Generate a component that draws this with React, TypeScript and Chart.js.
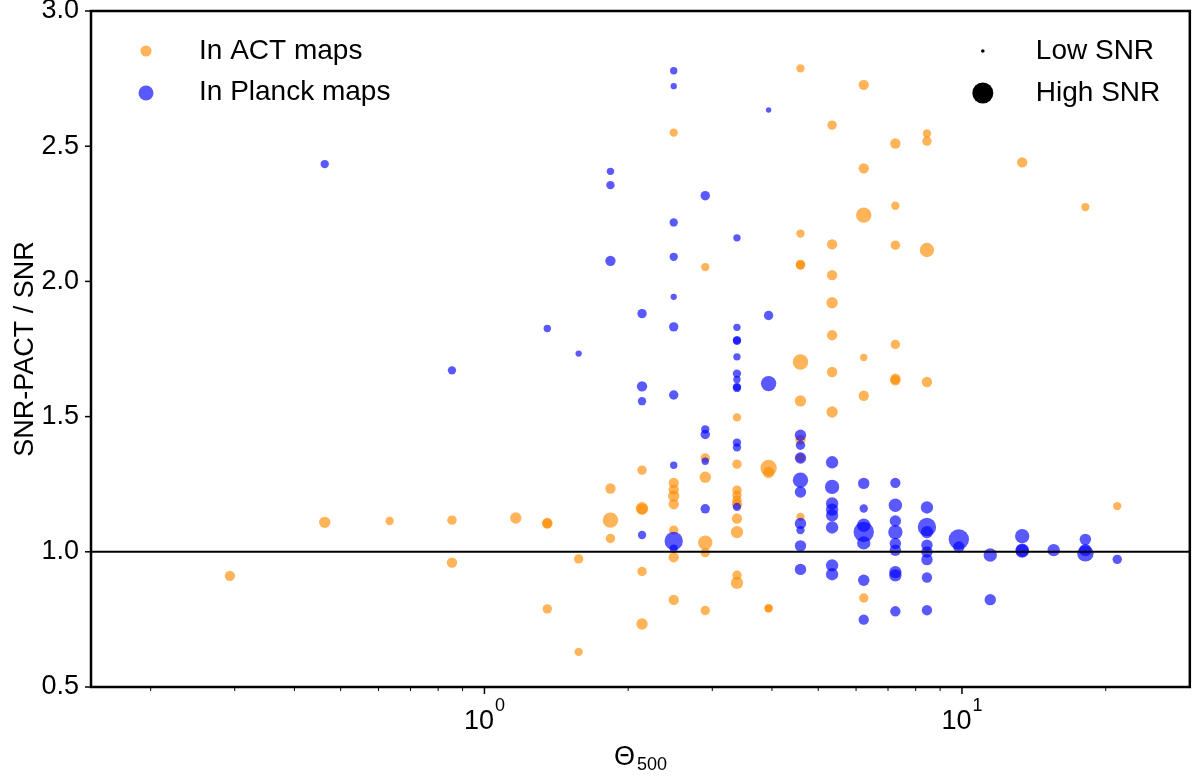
import { useEffect, useRef } from 'react';
import { Chart, registerables } from 'chart.js';

Chart.register(...registerables);

const FONT = "'Liberation Sans', Arial, Helvetica, sans-serif";

// ---- ACT clusters ----
const actTheta = [
  0.293, 0.463, 0.633, 0.855, 0.855, 1.163, 1.354, 1.354, 1.354, 1.575, 1.575,
  1.836, 1.836, 1.836, 2.138, 2.138, 2.138, 2.138, 2.138,
  2.491, 2.491, 2.491, 2.491, 2.491, 2.491, 2.491, 2.491,
  2.9, 2.9, 2.9, 2.9, 2.9, 2.9,
  3.379, 3.379, 3.379, 3.379, 3.379, 3.379, 3.379, 3.379, 3.379, 3.379,
  3.936, 3.936, 3.936, 3.936,
  4.59, 4.59, 4.59, 4.59, 4.59, 4.59, 4.59, 4.59, 4.59,
  5.346, 5.346, 5.346, 5.346, 5.346, 5.346, 5.346,
  6.227, 6.227, 6.227, 6.227, 6.227, 6.227,
  7.253, 7.253, 7.253, 7.253, 7.253, 7.253,
  8.446, 8.446, 8.446, 8.446,
  13.37, 18.13, 21.14,
];
const actRatio = [
  0.911, 1.109, 1.114, 1.117, 0.96, 1.125, 1.107, 1.104, 0.789, 0.974, 0.63,
  1.234, 1.117, 1.049, 1.302, 1.161, 1.158, 0.927, 0.733,
  2.55, 1.255, 1.23, 1.206, 1.176, 1.08, 0.98, 0.822,
  2.053, 1.347, 1.276, 1.034, 0.997, 0.783,
  1.497, 1.324, 1.228, 1.209, 1.191, 1.176, 1.123, 1.073, 0.913, 0.885,
  1.31, 1.293, 0.792, 0.79,
  2.788, 2.177, 2.063, 2.06, 1.702, 1.558, 1.415, 1.347, 1.129,
  2.578, 2.137, 2.023, 1.921, 1.801, 1.665, 1.517,
  2.727, 2.418, 2.245, 1.719, 1.577, 0.829,
  2.51, 2.28, 2.134, 1.767, 1.64, 1.634,
  2.547, 2.519, 2.116, 1.628,
  2.44, 2.275, 1.169,
];
const actSNR = [
  20, 25, 12, 16, 20, 25, 20, 20, 16, 16, 12,
  20, 49, 16, 16, 30, 25, 16, 25,
  12, 20, 20, 25, 20, 16, 20, 20,
  12, 16, 25, 42, 16, 16,
  12, 16, 16, 16, 16, 20, 20, 30, 16, 30,
  56, 25, 12, 12,
  12, 12, 16, 16, 49, 25, 20, 16, 12,
  16, 20, 20, 25, 20, 20, 25,
  20, 20, 49, 9, 20, 16,
  20, 12, 16, 16, 20, 20,
  12, 16, 42, 20,
  20, 12, 12,
];

// ---- Planck clusters ----
const planckTheta = [
  0.463, 0.855, 1.354, 1.575,
  1.836, 1.836, 1.836,
  2.138, 2.138, 2.138, 2.138,
  2.491, 2.491, 2.491, 2.491, 2.491, 2.491, 2.491, 2.491, 2.491, 2.491,
  2.9, 2.9, 2.9, 2.9, 2.9,
  3.379, 3.379, 3.379, 3.379, 3.379, 3.379, 3.379, 3.379, 3.379, 3.379, 3.379, 3.379,
  3.936, 3.936, 3.936,
  4.59, 4.59, 4.59, 4.59, 4.59, 4.59, 4.59, 4.59, 4.59,
  5.346, 5.346, 5.346, 5.346, 5.346, 5.346, 5.346, 5.346,
  6.227, 6.227, 6.227, 6.227, 6.227, 6.227, 6.227,
  7.253, 7.253, 7.253, 7.253, 7.253, 7.253, 7.253, 7.253, 7.253,
  8.446, 8.446, 8.446, 8.446, 8.446, 8.446, 8.446, 8.446,
  9.85, 9.85, 11.46, 11.46, 13.37, 13.37, 13.37, 15.56, 18.13, 18.13, 18.13, 21.14,
];
const planckRatio = [
  2.434, 1.671, 1.826, 1.733,
  2.407, 2.356, 2.076,
  1.881, 1.612, 1.557, 1.062,
  2.779, 2.722, 2.218, 2.091, 1.943, 1.832, 1.58, 1.32, 1.04, 1.012,
  2.317, 1.453, 1.434, 1.335, 1.159,
  2.161, 1.83, 1.783, 1.78, 1.721, 1.659, 1.637, 1.61, 1.606, 1.404, 1.386, 1.166,
  2.634, 1.874, 1.622,
  1.431, 1.394, 1.347, 1.265, 1.221, 1.105, 1.08, 1.022, 0.935,
  1.331, 1.24, 1.179, 1.156, 1.135, 1.09, 0.95, 0.917,
  1.253, 1.16, 1.098, 1.073, 1.033, 0.895, 0.749,
  1.255, 1.172, 1.114, 1.073, 1.031, 1.006, 0.925, 0.913, 0.78,
  1.164, 1.092, 1.073, 1.024, 0.999, 0.971, 0.905, 0.784,
  1.046, 1.018, 0.988, 0.823, 1.058, 1.006, 1.003, 1.006, 1.046, 1.006, 0.994, 0.972,
];
const planckSNR = [
  12, 12, 9, 6,
  9, 12, 20,
  16, 20, 12, 12,
  9, 6, 12, 12, 6, 16, 16, 9, 72, 12,
  16, 12, 16, 9, 16,
  9, 9, 12, 12, 9, 12, 9, 12, 12, 12, 12, 12,
  4, 16, 49,
  25, 16, 25, 49, 25, 25, 12, 25, 25,
  30, 42, 30, 30, 30, 30, 30, 30,
  25, 12, 36, 90, 36, 25, 20,
  20, 36, 25, 42, 25, 25, 30, 30, 20,
  30, 72, 30, 25, 25, 25, 20, 20,
  90, 25, 36, 25, 42, 36, 36, 30, 25, 30, 56, 16,
];

// reference line SNR-PACT / SNR = 1
const refLineTheta = [0.15, 30];
const refLineRatio = [1, 1];

const yTickValues = [0.5, 1.0, 1.5, 2.0, 2.5, 3.0];
const xMinorTicks = [0.2, 0.3, 0.4, 0.5, 0.6, 0.7, 0.8, 0.9, 2, 3, 4, 5, 6, 7, 8, 9, 20];
const xMajorExponents = [0, 1];

const ORANGE = 'rgba(255,140,0,0.65)';
const BLUE = 'rgba(0,0,255,0.65)';

const markerRadius = (snr: number) => Math.sqrt(snr) + 0.7;

const decor = {
  id: 'decor',
  afterDraw(chart: any) {
    const { ctx, chartArea: a, scales } = chart;
    const x = scales.x;
    const y = scales.y;
    ctx.save();
    ctx.strokeStyle = '#000';
    ctx.fillStyle = '#000';
    const seg = (x1: number, y1: number, x2: number, y2: number) => {
      ctx.beginPath();
      ctx.moveTo(x1, y1);
      ctx.lineTo(x2, y2);
      ctx.stroke();
    };
    // y ticks
    ctx.lineWidth = 1.5;
    y.ticks.forEach((t: any) => {
      const py = y.getPixelForValue(t.value);
      seg(a.left - 6, py, a.left, py);
    });
    // x ticks
    ctx.lineWidth = 1;
    xMinorTicks.forEach((v) => {
      const px = x.getPixelForValue(v);
      seg(px, a.bottom, px, a.bottom + 4);
    });
    ctx.lineWidth = 1.5;
    xMajorExponents.forEach((e) => {
      const px = x.getPixelForValue(Math.pow(10, e));
      seg(px, a.bottom, px, a.bottom + 7);
    });
    // frame
    ctx.lineWidth = 2.5;
    ctx.strokeRect(a.left, a.top, a.right - a.left, a.bottom - a.top);

    // x tick labels 10^e
    ctx.textBaseline = 'alphabetic';
    ctx.textAlign = 'left';
    xMajorExponents.forEach((e) => {
      const px = x.getPixelForValue(Math.pow(10, e));
      ctx.font = `27px ${FONT}`;
      const w1 = ctx.measureText('10').width;
      ctx.font = `18px ${FONT}`;
      const w2 = ctx.measureText(String(e)).width;
      const start = px - (w1 + w2 + 1) / 2;
      ctx.font = `27px ${FONT}`;
      ctx.fillText('10', start, a.bottom + 42);
      ctx.font = `18px ${FONT}`;
      ctx.fillText(String(e), start + w1 + 1, a.bottom + 24);
    });

    // x axis title Θ_500
    ctx.font = `27px ${FONT}`;
    const wT = ctx.measureText('Θ').width;
    ctx.font = `18px ${FONT}`;
    const wS = ctx.measureText('500').width;
    const cx = (a.left + a.right) / 2;
    const sx = cx - (wT + wS + 2) / 2;
    ctx.font = `27px ${FONT}`;
    ctx.fillText('Θ', sx, a.bottom + 78);
    ctx.font = `18px ${FONT}`;
    ctx.fillText('500', sx + wT + 2, a.bottom + 82.5);

    // legends
    const dot = (px: number, py: number, r: number, color: string) => {
      ctx.beginPath();
      ctx.arc(px, py, r, 0, Math.PI * 2);
      ctx.fillStyle = color;
      ctx.fill();
    };
    ctx.font = `28px ${FONT}`;
    dot(a.left + 55, a.top + 40, 5.5, ORANGE);
    dot(a.left + 55, a.top + 82, 7.5, BLUE);
    ctx.fillStyle = '#000';
    ctx.fillText('In ACT maps', a.left + 108, a.top + 48);
    ctx.fillText('In Planck maps', a.left + 108, a.top + 89);

    dot(a.right - 207, a.top + 40, 1.8, '#000');
    dot(a.right - 207, a.top + 82, 10.5, '#000');
    ctx.fillStyle = '#000';
    ctx.fillText('Low SNR', a.right - 154, a.top + 48);
    ctx.fillText('High SNR', a.right - 154, a.top + 89.5);

    ctx.restore();
  },
};

export default function App() {
  const ref = useRef<HTMLCanvasElement | null>(null);
  useEffect(() => {
    if (!ref.current) return;
    Chart.defaults.font.family = FONT;
    const actData = actTheta.map((t, i) => ({ x: t, y: actRatio[i] }));
    const planckData = planckTheta.map((t, i) => ({ x: t, y: planckRatio[i] }));
    const lineData = refLineTheta.map((t, i) => ({ x: t, y: refLineRatio[i] }));
    const chart = new Chart(ref.current, {
      type: 'scatter',
      data: {
        datasets: [
          {
            type: 'line',
            label: 'ratio = 1',
            data: lineData,
            borderColor: '#000',
            borderWidth: 2,
            pointRadius: 0,
            order: 0,
          } as any,
          {
            label: 'In Planck maps',
            data: planckData,
            backgroundColor: BLUE,
            borderWidth: 0,
            pointRadius: planckSNR.map(markerRadius),
            pointHoverRadius: planckSNR.map(markerRadius),
            order: 1,
          },
          {
            label: 'In ACT maps',
            data: actData,
            backgroundColor: ORANGE,
            borderWidth: 0,
            pointRadius: actSNR.map(markerRadius),
            pointHoverRadius: actSNR.map(markerRadius),
            order: 2,
          },
        ],
      },
      options: {
        animation: false,
        responsive: false,
        events: [],
        layout: { padding: { left: 0, top: 11, right: 8, bottom: 0 } },
        plugins: { legend: { display: false }, tooltip: { enabled: false } },
        scales: {
          x: {
            type: 'logarithmic',
            min: 0.15,
            max: 30,
            grid: { display: false, drawTicks: false },
            border: { display: false },
            ticks: { display: false },
            afterFit: (s: any) => {
              s.height = 90;
              s.paddingLeft = 0;
              s.paddingRight = 0;
            },
          },
          y: {
            type: 'linear',
            min: 0.5,
            max: 3.0,
            afterBuildTicks: (s: any) => {
              s.ticks = yTickValues.map((v) => ({ value: v }));
            },
            grid: { display: false, drawTicks: false },
            border: { display: false },
            ticks: {
              color: '#000',
              padding: 12,
              font: { size: 27, family: FONT, lineHeight: 0.8 },
              callback: (v: any) => Number(v).toFixed(1),
            },
            title: {
              display: true,
              text: 'SNR-PACT / SNR',
              color: '#000',
              font: { size: 27, family: FONT },
              padding: { top: 9, bottom: 0 },
            },
            afterFit: (s: any) => {
              s.width = 91;
              s.paddingTop = 0;
              s.paddingBottom = 0;
            },
          },
        },
      },
      plugins: [decor],
    });
    return () => chart.destroy();
  }, []);
  return (
    <div style={{ position: 'absolute', left: 0, top: 0, width: 1200, height: 777, background: '#fff' }}>
      <canvas ref={ref} width={1200} height={777} style={{ display: 'block' }} />
    </div>
  );
}
